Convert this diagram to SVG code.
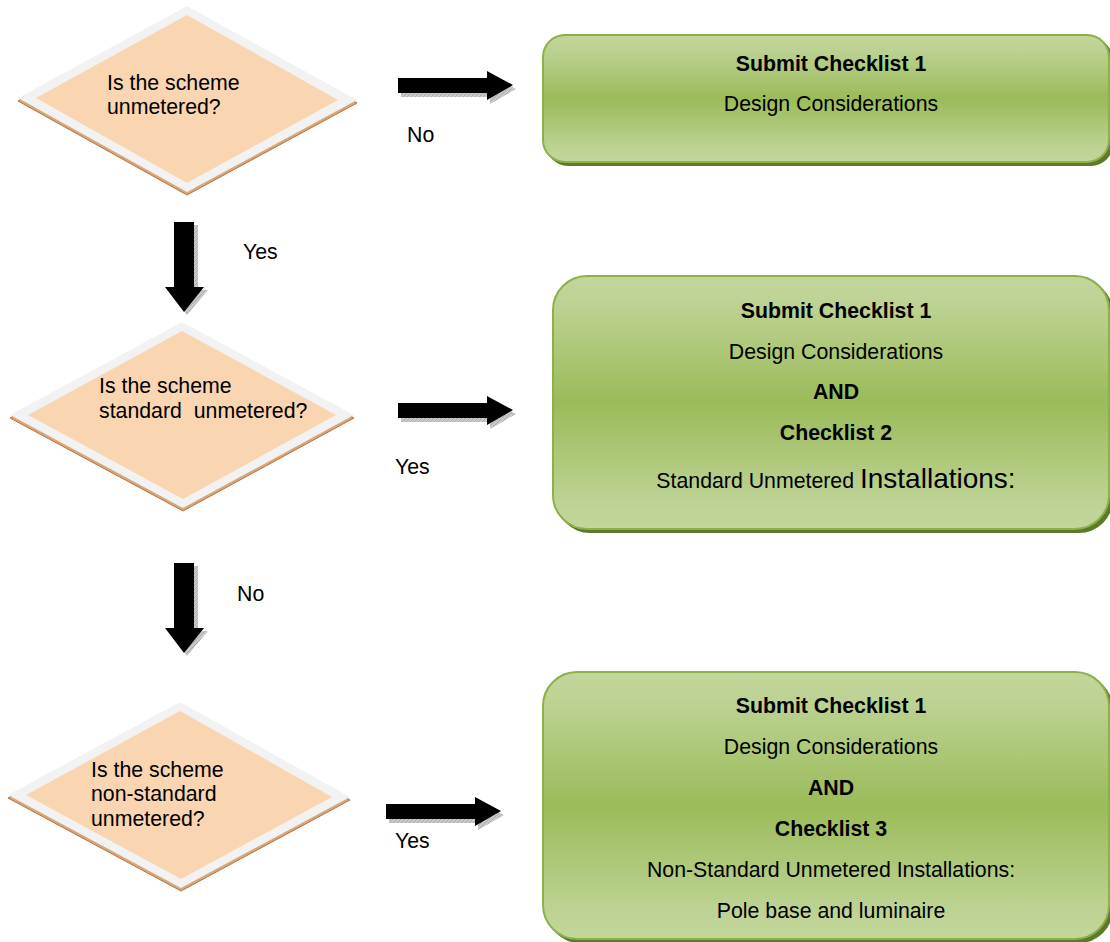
<svg xmlns="http://www.w3.org/2000/svg" width="1110" height="942" viewBox="0 0 1110 942">
<defs>
<linearGradient id="g" x1="0" y1="0" x2="0" y2="1">
<stop offset="0" stop-color="#c3d69b"/>
<stop offset="0.12" stop-color="#bcd292"/>
<stop offset="0.5" stop-color="#9bbb59"/>
<stop offset="0.88" stop-color="#bcd292"/>
<stop offset="1" stop-color="#c3d69b"/>
</linearGradient>
<pattern id="hatch" width="4" height="4" patternUnits="userSpaceOnUse">
<rect width="4" height="4" fill="#c8c8c8"/>
<path d="M0 4 L4 0" stroke="#9a9a9a" stroke-width="0.6"/>
</pattern>
</defs>
<style>
.t{font-family:"Liberation Sans",Arial,sans-serif;font-size:21.3px;fill:#000}
.b{font-weight:bold}
.c{text-anchor:middle}
.outer{fill:#f2f2f2}
.inner{fill:#fad5b1}
.dsh{fill:#d9a57a;stroke:#b8733f;stroke-width:1}
.box{fill:url(#g);stroke:#8cb04a;stroke-width:2}
.bsh{fill:#5d7a2a}
.arr{fill:#000}
.ash{fill:url(#hatch)}
</style>

<g id="connectors">
<g id="arrow-no-1">
<path class="ash" d="M401 82 H490 V75 L516 89 L490 104 V97 H401 Z"/>
<path class="arr" d="M398 78 H487 V71 L513 85 L487 100 V93 H398 Z"/>
<text class="t" x="407" y="142">No</text>
</g>
<g id="arrow-yes-1">
<path class="ash" d="M178 225 H198 V290 H208 L187 315 L169 290 H178 Z"/>
<path class="arr" d="M174 222 H194 V287 H204 L184 312 L165 287 H174 Z"/>
<text class="t" x="243" y="259">Yes</text>
</g>
<g id="arrow-yes-2">
<path class="ash" d="M401 407 H490 V400 L516 414 L490 429 V422 H401 Z"/>
<path class="arr" d="M398 403 H487 V396 L513 410 L487 425 V418 H398 Z"/>
<text class="t" x="395" y="474">Yes</text>
</g>
<g id="arrow-no-2">
<path class="ash" d="M178 566 H198 V631 H208 L187 656 L169 631 H178 Z"/>
<path class="arr" d="M174 563 H194 V628 H204 L184 653 L165 628 H174 Z"/>
<text class="t" x="237" y="601">No</text>
</g>
<g id="arrow-yes-3">
<path class="ash" d="M389 808 H478 V801 L504 815 L478 830 V823 H389 Z"/>
<path class="arr" d="M386 804 H475 V797 L501 811 L475 826 V819 H386 Z"/>
<text class="t" x="395" y="848">Yes</text>
</g>
</g>

<g id="decision-1">
<path class="dsh" d="M18 101 L187 195 L357 103 L187 10 Z"/>
<path class="outer" d="M18 98 L187 6 L357 100 L187 192 Z"/>
<path class="inner" d="M36 98 L187 15 L338 100 L187 183 Z"/>
<text class="t" x="107" y="90">Is the scheme</text>
<text class="t" x="107" y="114">unmetered?</text>
</g>

<g id="decision-2">
<path class="dsh" d="M10 418 L183 511 L354 418 L183 326 Z"/>
<path class="outer" d="M10 415 L182 322 L354 415 L183 508 Z"/>
<path class="inner" d="M28 415 L182 331 L336 415 L183 499 Z"/>
<text class="t" x="99" y="393">Is the scheme</text>
<text class="t" x="99" y="418" xml:space="preserve">standard  unmetered?</text>
</g>

<g id="decision-3">
<path class="dsh" d="M8 798 L181 891 L350 800 L180 706 Z"/>
<path class="outer" d="M8 795 L180 702 L350 797 L181 888 Z"/>
<path class="inner" d="M26 795 L180 711 L332 797 L181 879 Z"/>
<text class="t" x="91" y="777">Is the scheme</text>
<text class="t" x="91" y="801">non-standard</text>
<text class="t" x="91" y="826">unmetered?</text>
</g>

<g id="box-1">
<rect class="bsh" x="546" y="38" width="567" height="128" rx="22"/>
<rect class="box" x="543" y="35" width="566" height="127" rx="22"/>
<text class="t b c" x="831" y="71">Submit Checklist 1</text>
<text class="t c" x="831" y="111">Design Considerations</text>
</g>

<g id="box-2">
<rect class="bsh" x="556" y="279" width="557" height="254" rx="34"/>
<rect class="box" x="553" y="276" width="556" height="253" rx="34"/>
<text class="t b c" x="836" y="318">Submit Checklist 1</text>
<text class="t c" x="836" y="359">Design Considerations</text>
<text class="t b c" x="836" y="399">AND</text>
<text class="t b c" x="836" y="440">Checklist 2</text>
<text class="t c" x="836" y="488">Standard Unmetered <tspan style="font-size:28px">Installations:</tspan></text>
</g>

<g id="box-3">
<rect class="bsh" x="546" y="675" width="567" height="268" rx="34"/>
<rect class="box" x="543" y="672" width="566" height="267" rx="34"/>
<text class="t b c" x="831" y="713">Submit Checklist 1</text>
<text class="t c" x="831" y="754">Design Considerations</text>
<text class="t b c" x="831" y="795">AND</text>
<text class="t b c" x="831" y="836">Checklist 3</text>
<text class="t c" x="831" y="877">Non-Standard Unmetered Installations:</text>
<text class="t c" x="831" y="918">Pole base and luminaire</text>
</g>
</svg>
